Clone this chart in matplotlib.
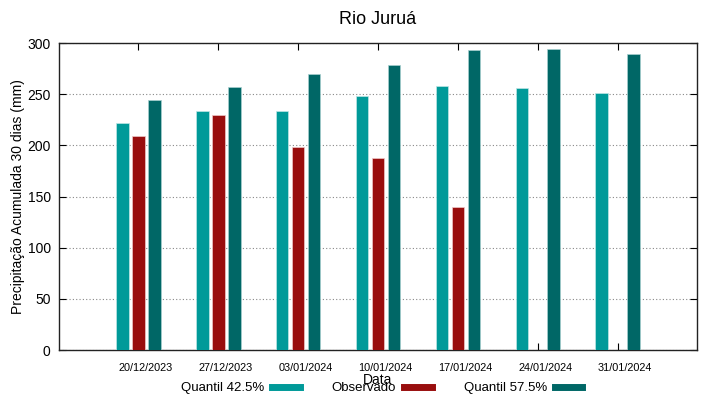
import numpy as np
import matplotlib
matplotlib.use('Agg')
import matplotlib.pyplot as plt
from matplotlib.lines import Line2D

plt.rcParams['font.family'] = ['Liberation Sans', 'DejaVu Sans']

datas = ['20/12/2023', '27/12/2023', '03/01/2024', '10/01/2024',
         '17/01/2024', '24/01/2024', '31/01/2024']
q425 = [222, 234, 234, 248, 258, 256, 251]
observado = [209, 230, 198, 188, 140, np.nan, np.nan]
q575 = [244, 257, 270, 279, 293, 294, 289]

c1 = '#009a99'
c2 = '#990e0e'
c3 = '#006766'

fig = plt.figure(figsize=(7.19, 3.99), dpi=100)
ax = fig.add_axes([0.0821, 0.1228, 0.8873, 0.7694])

x = np.arange(len(datas))
w = 0.16
ax.bar(x - 0.2, q425, w, color=c1, edgecolor='#bfe6e6', linewidth=0.5, zorder=3)
ax.bar(x, observado, w, color=c2, edgecolor='#f0c8c8', linewidth=0.5, zorder=3)
ax.bar(x + 0.2, q575, w, color=c3, edgecolor='#a8d0d0', linewidth=0.5, zorder=3)

ax.set_xlim(-0.99, 6.99)
ax.set_ylim(0, 300)
ax.set_yticks(range(0, 301, 50))
# major ticks carry the marks, minor ticks (slightly shifted) carry the labels
ax.set_xticks(x)
ax.set_xticklabels([])
ax.set_xticks(x + 0.09, minor=True)
ax.set_xticklabels(datas, minor=True, fontsize=7.8)
ax.tick_params(axis='x', which='minor', length=0, pad=9)
ax.tick_params(axis='y', labelsize=10, direction='in', right=True, length=5, pad=6)
ax.tick_params(axis='x', which='major', direction='in', top=True, length=5)
ax.yaxis.grid(True, linestyle=(0, (1, 2)), color='#888888', linewidth=0.8, zorder=0)
for s in ax.spines.values():
    s.set_linewidth(1.0)
    s.set_color('#222222')

ax.set_title('Rio Juruá', fontsize=13, pad=14)
ax.set_ylabel('Precipitação Acumulada 30 dias (mm)', fontsize=10, labelpad=2)
ax.set_xlabel('Data', fontsize=10, labelpad=0)

handles = [Line2D([], [], color=c1, linewidth=5),
           Line2D([], [], color=c2, linewidth=5),
           Line2D([], [], color=c3, linewidth=5)]
ax.legend(handles, ['Quantil 42.5%', 'Observado', 'Quantil 57.5%'],
          ncol=3, frameon=False, markerfirst=False, fontsize=9.5,
          handlelength=2.1, columnspacing=2.4, handletextpad=0.6,
          loc='center', bbox_to_anchor=(0.506, -0.125))

fig.savefig('out.png', dpi=100)
